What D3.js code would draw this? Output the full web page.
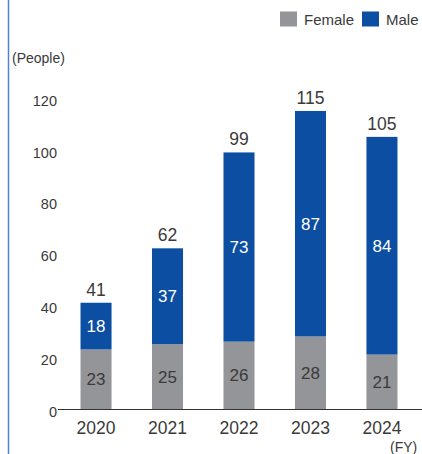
<!DOCTYPE html>
<html><head><meta charset="utf-8">
<script src="https://cdn.jsdelivr.net/npm/d3@7"></script>
<style>body{margin:0;background:#fff;overflow:hidden}svg{display:block;font-family:"Liberation Sans",Arial,sans-serif}</style>
</head><body>
<svg id="c" width="422" height="454"></svg>
<script>
const years = ["2020","2021","2022","2023","2024"];
const female = [23,25,26,28,21];
const male = [18,37,73,87,84];
const totals = [41,62,99,115,105];
const yTicks = [0,20,40,60,80,100,120];
const seriesNames = ["Female","Male"];
const colors = {Female:"#939598", Male:"#0b4ea2"};
const textColor = "#3a3a3a";

const svg = d3.select("#c");
const x = d3.scaleBand().domain(years).range([60,418]).paddingInner(0.566).paddingOuter(0.287);
const y = d3.scaleLinear().domain([0,120]).range([409,98]);

// left accent line
svg.append("line").attr("x1",8.5).attr("x2",8.5).attr("y1",0).attr("y2",454)
  .attr("stroke","#4f84d1").attr("stroke-width",1.5);

// y tick labels
const yAxis = d3.axisLeft(y).tickValues(yTicks).tickSize(0).tickPadding(0);
const gy = svg.append("g").attr("transform","translate(57,0)").call(yAxis);
gy.select(".domain").remove();
gy.selectAll("text").attr("font-size",14.5).attr("fill",textColor).attr("dy","0.5em")
  .attr("font-family","'Liberation Sans',Arial,sans-serif");

const data = years.map((yr,i)=>({yr, f:female[i], m:male[i], t:totals[i]}));

// bars
svg.append("g").selectAll("rect").data(data).join("rect")
  .attr("x",d=>x(d.yr)).attr("width",x.bandwidth())
  .attr("y",d=>y(d.f)).attr("height",d=>y(0)-y(d.f)).attr("fill",colors.Female);
svg.append("g").selectAll("rect").data(data).join("rect")
  .attr("x",d=>x(d.yr)).attr("width",x.bandwidth())
  .attr("y",d=>y(d.f+d.m)).attr("height",d=>y(d.f)-y(d.f+d.m)).attr("fill",colors.Male);

const cx = d=>x(d.yr)+x.bandwidth()/2;
// labels
svg.append("g").selectAll("text").data(data).join("text")
  .attr("x",cx).attr("y",d=>y(d.f/2)).attr("dy","0.36em").attr("text-anchor","middle")
  .attr("font-size",17).attr("fill",textColor).text(d=>d.f);
svg.append("g").selectAll("text").data(data).join("text")
  .attr("x",cx).attr("y",d=>y(d.f+d.m/2)).attr("dy","0.36em").attr("text-anchor","middle")
  .attr("font-size",17).attr("fill","#fff").text(d=>d.m);
svg.append("g").selectAll("text").data(data).join("text")
  .attr("x",cx).attr("y",d=>y(d.f+d.m)-7).attr("text-anchor","middle")
  .attr("font-size",17.5).attr("fill",textColor).text(d=>d.t);

// x axis
svg.append("line").attr("x1",58).attr("x2",422).attr("y1",409.5).attr("y2",409.5)
  .attr("stroke","#333").attr("stroke-width",1.2);
const xAxis = d3.axisBottom(x).tickSize(0).tickPadding(0);
const gx = svg.append("g").attr("transform","translate(0,409)").call(xAxis);
gx.select(".domain").remove();
gx.selectAll("text").attr("font-size",17.5).attr("fill",textColor).attr("dy","0").attr("y",25)
  .attr("font-family","'Liberation Sans',Arial,sans-serif");

// axis titles
svg.append("text").attr("x",12).attr("y",63).attr("font-size",14).attr("fill",textColor).text("(People)");
svg.append("text").attr("x",390).attr("y",452).attr("font-size",14).attr("fill",textColor).text("(FY)");

// legend
const lg = svg.append("g");
const lx = [280,362];
seriesNames.forEach((n,i)=>{
  lg.append("rect").attr("x",lx[i]).attr("y",11.5).attr("width",17).attr("height",15).attr("fill",colors[n]);
  lg.append("text").attr("x",lx[i]+24).attr("y",25).attr("font-size",15).attr("fill",textColor).text(n);
});
</script>
</body></html>
